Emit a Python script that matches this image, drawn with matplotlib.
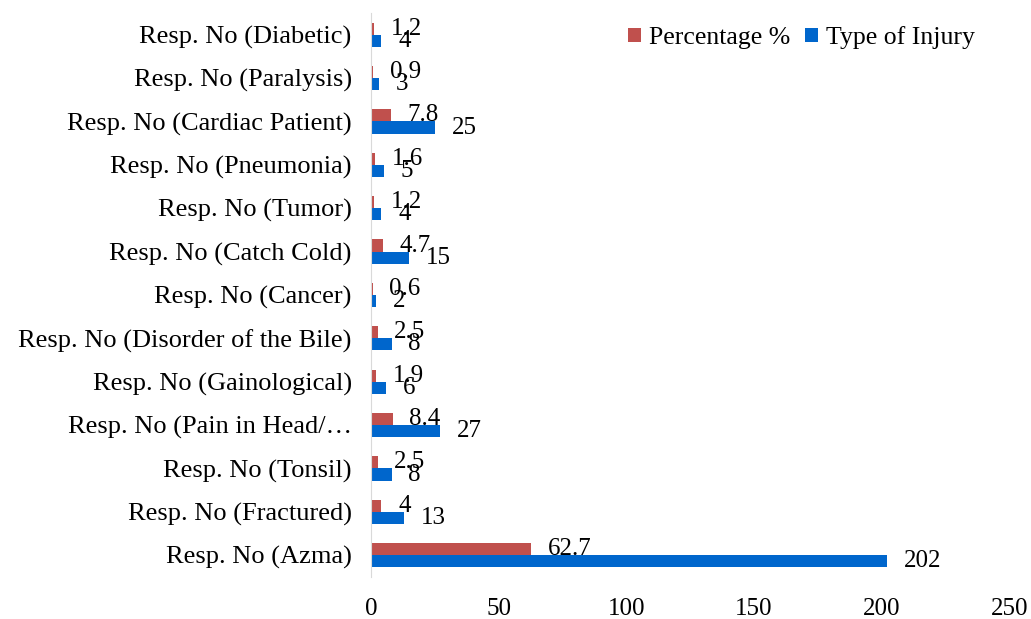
import matplotlib
matplotlib.use("Agg")
import matplotlib.pyplot as plt
import numpy as np

plt.rcParams['font.family'] = ['Liberation Serif', 'DejaVu Serif']

categories = ["Resp. No (Azma)", "Resp. No (Fractured)", "Resp. No (Tonsil)",
              "Resp. No (Pain in Head/\u2026", "Resp. No (Gainological)",
              "Resp. No (Disorder of the Bile)", "Resp. No (Cancer)",
              "Resp. No (Catch Cold)", "Resp. No (Tumor)", "Resp. No (Pneumonia)",
              "Resp. No (Cardiac Patient)", "Resp. No (Paralysis)", "Resp. No (Diabetic)"]
injury = [202, 13, 8, 27, 6, 8, 2, 15, 4, 5, 25, 3, 4]
percentage = [62.7, 4, 2.5, 8.4, 1.9, 2.5, 0.6, 4.7, 1.2, 1.6, 7.8, 0.9, 1.2]
pct_labels = ["62.7", "4", "2.5", "8.4", "1.9", "2.5", "0.6", "4.7", "1.2", "1.6", "7.8", "0.9", "1.2"]

red = "#C0504D"
blue = "#0066CC"

fig = plt.figure(figsize=(10.31, 6.19), dpi=100)
ax = fig.add_axes([0.36, 0.068, 0.619, 0.911])

y = np.arange(len(categories))
h = 0.28
ax.barh(y + h / 2, percentage, height=h, color=red, label="Percentage %")
ax.barh(y - h / 2, injury, height=h, color=blue, label="Type of Injury")

for yi, v, s in zip(y, percentage, pct_labels):
    ax.annotate(s, (v, yi + h / 2), xytext=(12, 0), textcoords="offset points",
                va="center", ha="left", fontsize=18)
for yi, v in zip(y, injury):
    ax.annotate(str(v), (v, yi - h / 2), xytext=(12, 0), textcoords="offset points",
                va="center", ha="left", fontsize=18)

ax.set_xlim(0, 250)
ax.set_ylim(-0.5, len(categories) - 0.5)
ax.set_xticks([0, 50, 100, 150, 200, 250])
ax.set_yticks(y)
ax.set_yticklabels(categories, fontsize=19)
ax.tick_params(axis="both", length=0)
ax.tick_params(axis="x", labelsize=18, pad=15)
ax.tick_params(axis="y", pad=14)
for sp in ["top", "right", "bottom"]:
    ax.spines[sp].set_visible(False)
ax.spines["left"].set_color("#D9D9D9")

handles, labels = ax.get_legend_handles_labels()
fig.legend(handles, labels, loc="upper right", bbox_to_anchor=(0.968, 0.995), ncol=2,
           frameon=False, fontsize=18.5, handlelength=0.5, handleheight=0.5,
           handletextpad=0.3, columnspacing=0.6)

fig.savefig("out.png", dpi=100)
